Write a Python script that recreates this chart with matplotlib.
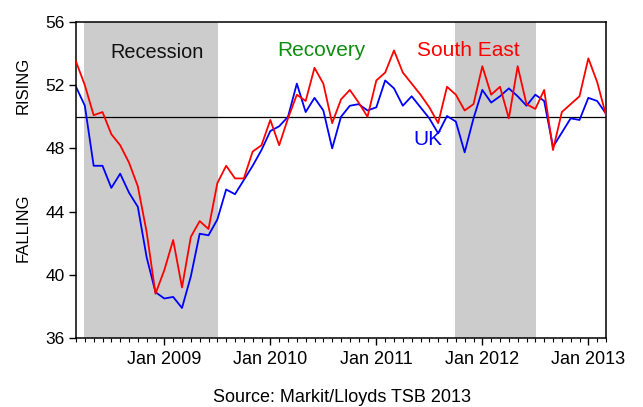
import matplotlib
matplotlib.use("Agg")
import matplotlib.pyplot as plt
import numpy as np

plt.rcParams['font.family'] = ['Liberation Sans', 'DejaVu Sans']

# Monthly observations, Mar 2008 .. Mar 2013
months = list(range(61))
south_east = [53.5, 52.0, 50.1, 50.3, 48.9, 48.2, 47.1, 45.6, 42.7, 38.8,
              40.3, 42.2, 39.2, 42.4, 43.4, 42.9, 45.8, 46.9, 46.1, 46.1,
              47.8, 48.2, 49.8, 48.2, 49.9, 51.4, 51.0, 53.1, 52.1, 49.6,
              51.1, 51.7, 50.9, 50.0, 52.3, 52.8, 54.2, 52.8, 52.1, 51.4,
              50.6, 49.6, 51.9, 51.4, 50.4, 50.8, 53.2, 51.4, 51.9, 49.9,
              53.2, 50.8, 50.5, 51.7, 47.9, 50.3, 50.8, 51.3, 53.7, 52.2,
              50.1]
uk = [51.9, 50.7, 46.9, 46.9, 45.5, 46.4, 45.2, 44.3, 41.1, 38.9,
      38.5, 38.6, 37.9, 39.9, 42.6, 42.5, 43.5, 45.4, 45.1, 46.0,
      46.9, 47.9, 49.1, 49.4, 50.0, 52.1, 50.3, 51.2, 50.4, 48.0,
      50.0, 50.7, 50.8, 50.4, 50.6, 52.3, 51.8, 50.7, 51.3, 50.6,
      49.9, 48.95, 50.05, 49.7, 47.75, 49.9, 51.7, 50.9, 51.3, 51.8,
      51.3, 50.7, 51.4, 51.0, 48.1, 49.0, 49.9, 49.8, 51.2, 51.0,
      50.2]
tick_positions = [10, 22, 34, 46, 58]
tick_labels = ["Jan 2009", "Jan 2010", "Jan 2011", "Jan 2012", "Jan 2013"]
shaded = [(0.94, 16.05), (42.9, 52.1)]
y_ticks = [36, 40, 44, 48, 52, 56]

fig = plt.figure(figsize=(6.43, 4.07), dpi=100)
ax = fig.add_axes([76/643, 1-338/407, 530/643, 316/407])

for a, b in shaded:
    ax.axvspan(a, b, color='#cccccc', lw=0, zorder=0)
ax.axhline(50, color='black', lw=0.9, zorder=1)
ax.plot(months, south_east, color='#ff0000', lw=1.3, zorder=3)
ax.plot(months, uk, color='#0000ff', lw=1.3, zorder=2)

ax.set_xlim(0, 60)
ax.set_ylim(36, 56)
ax.set_xticks(tick_positions)
ax.set_xticklabels(tick_labels)
ax.set_xticks(months, minor=True)
ax.set_yticks(y_ticks)
ax.tick_params(axis='x', which='major', direction='out', length=5, width=1, labelsize=13, pad=4)
ax.tick_params(axis='x', which='minor', direction='out', length=3, width=0.8)
ax.tick_params(axis='y', direction='out', length=5, width=1, labelsize=12.5, pad=3)
for s in ax.spines.values():
    s.set_linewidth(1.1)

ax.text(9.17, 53.72, "Recession", ha='center', va='baseline', fontsize=14.3, color='#111111')
ax.text(27.8, 53.85, "Recovery", ha='center', va='baseline', fontsize=15, color='#108c10')
ax.text(44.45, 53.85, "South East", ha='center', va='baseline', fontsize=15, color='#ff0000')
ax.text(39.86, 48.22, "UK", ha='center', va='baseline', fontsize=15, color='#0000ff')

fig.text(23/643, 1-85.5/407, "RISING", rotation=90, ha='center', va='center', fontsize=12)
fig.text(23/643, 1-227.5/407, "FALLING", rotation=90, ha='center', va='center', fontsize=12)
fig.text(342/643, 1-398/407, "Source: Markit/Lloyds TSB 2013", ha='center', va='center', fontsize=13)

fig.savefig("out.png", dpi=100)
